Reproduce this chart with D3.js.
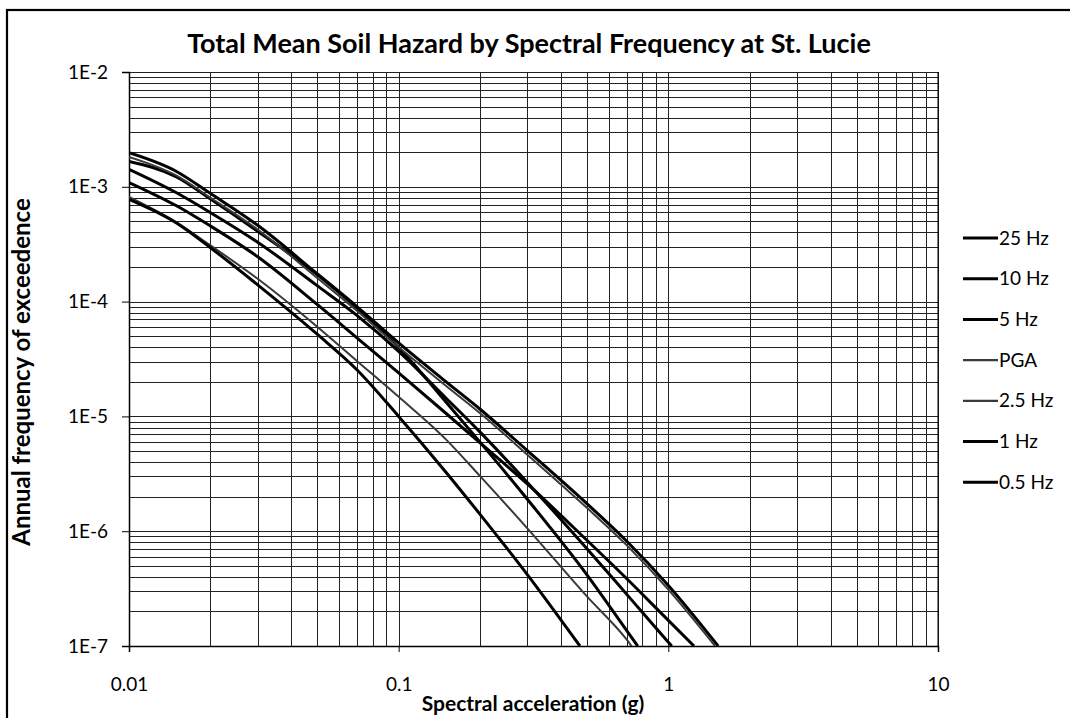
<!DOCTYPE html>
<html>
<head>
<meta charset="utf-8">
<script src="https://cdnjs.cloudflare.com/ajax/libs/d3/7.8.5/d3.min.js"></script>
<style>
body { margin: 0; background: #fff; overflow: hidden; }
text { font-family: Lato, "Open Sans", sans-serif; fill: #000; }
</style>
</head>
<body>
<div id="chart"></div>
<script>
var sa = [0.01, 0.015, 0.02, 0.03, 0.05, 0.07, 0.1, 0.15, 0.2, 0.3, 0.5, 0.7, 1];

// annual frequency of exceedence per series
var afe25  = [1.66e-3, 1.22e-3, 7.87e-4, 4.10e-4, 1.71e-4, 8.81e-5, 3.97e-5, 1.33e-5, 6.0e-6, 1.9e-6, 4.15e-7, 1.37e-7];
var afe10  = [1.42e-3, 8.87e-4, 5.98e-4, 3.29e-4, 1.37e-4, 7.59e-5, 3.69e-5, 1.44e-5, 7.33e-6, 2.66e-6, 7.0e-7, 2.83e-7, 1.08e-7];
var afe5   = [1.98e-3, 1.36e-3, 8.77e-4, 4.62e-4, 1.74e-4, 9.06e-5, 4.37e-5, 2.0e-5, 1.16e-5, 5.04e-6, 1.73e-6, 8.22e-7, 3.37e-7];
var afePGA = [8.15e-4, 4.9e-4, 3.1e-4, 1.58e-4, 6.01e-5, 3.04e-5, 1.48e-5, 6.28e-6, 3.03e-6, 1.06e-6, 2.69e-7, 1.14e-7];
var afe2p5 = [1.82e-3, 1.25e-3, 8.07e-4, 4.25e-4, 1.6e-4, 8.34e-5, 4.02e-5, 1.84e-5, 1.07e-5, 4.64e-6, 1.59e-6, 7.56e-7, 3.1e-7];
var afe1   = [1.09e-3, 6.83e-4, 4.57e-4, 2.46e-4, 9.4e-5, 4.84e-5, 2.39e-5, 1.06e-5, 5.9e-6, 2.58e-6, 8.3e-7, 3.87e-7, 1.67e-7];
var afe05  = [7.78e-4, 4.84e-4, 2.96e-4, 1.4e-4, 5.17e-5, 2.55e-5, 1.0e-5, 3.25e-6, 1.41e-6, 4.19e-7];

// where each curve leaves the chart at 1E-7
var endSa = [0.77, 1.03, 1.53, 0.73, 1.49, 1.245, 0.47];

var names = ["25 Hz", "10 Hz", "5 Hz", "PGA", "2.5 Hz", "1 Hz", "0.5 Hz"];
var afeAll = [afe25, afe10, afe5, afePGA, afe2p5, afe1, afe05];
var lightSeries = ["PGA", "2.5 Hz"];

var xTicks = [0.01, 0.1, 1, 10];
var yTicks = [1e-2, 1e-3, 1e-4, 1e-5, 1e-6, 1e-7];

var w = 1070;
var h = 718;
var plotL = 129, plotR = 938, plotT = 72, plotB = 646;

var svg = d3.select("#chart")
            .append("svg")
            .attr("width", w)
            .attr("height", h);

// outer frame, runs off the right and bottom edges like the scan
svg.append("rect")
    .attr("x", 7)
    .attr("y", 10)
    .attr("width", 1080)
    .attr("height", 720)
    .attr("fill", "#fff")
    .attr("stroke", "#000")
    .attr("stroke-width", 2.2);

var xScale = d3.scaleLog()
                .domain([0.01, 10])
                .range([plotL, plotR]);

var yScale = d3.scaleLog()
                .domain([1e-7, 1e-2])
                .range([plotB, plotT]);

// minor values for the grid
var xGrid = [];
[0.01, 0.1, 1].forEach(function(d){
    for(var k = 1; k < 10; k++){ xGrid.push(d * k); }
});
xGrid.push(10);

var yGrid = [];
[1e-7, 1e-6, 1e-5, 1e-4, 1e-3].forEach(function(d){
    for(var k = 1; k < 10; k++){ yGrid.push(d * k); }
});
yGrid.push(1e-2);

svg.append("g")
    .selectAll("line")
    .data(yGrid)
    .enter()
    .append("line")
    .attr("x1", plotL)
    .attr("x2", plotR)
    .attr("y1", function(d){ return Math.round(yScale(d)) + 0.5; })
    .attr("y2", function(d){ return Math.round(yScale(d)) + 0.5; })
    .attr("stroke", "#222")
    .attr("stroke-width", 1);

svg.append("g")
    .selectAll("line")
    .data(xGrid)
    .enter()
    .append("line")
    .attr("x1", function(d){ return Math.round(xScale(d)) + 0.5; })
    .attr("x2", function(d){ return Math.round(xScale(d)) + 0.5; })
    .attr("y1", plotT)
    .attr("y2", plotB)
    .attr("stroke", "#222")
    .attr("stroke-width", 1);

// axes with outward major ticks
var xAxis = d3.axisBottom(xScale)
                .tickValues(xTicks)
                .tickSize(6)
                .tickPadding(26)
                .tickFormat(function(d){ return String(d); });

var yAxis = d3.axisLeft(yScale)
                .tickValues(yTicks)
                .tickSize(7)
                .tickPadding(14)
                .tickFormat(function(d){ return "1E" + Math.round(Math.log10(d)); });

svg.append("g")
    .attr("transform", "translate(0," + plotB + ")")
    .call(xAxis)
    .call(function(g){ g.select(".domain").attr("stroke", "#000").attr("stroke-width", 1.5); })
    .selectAll("text")
    .style("font-size", "19px");

svg.append("g")
    .attr("transform", "translate(" + plotL + ",0)")
    .call(yAxis)
    .call(function(g){ g.select(".domain").attr("stroke", "#000").attr("stroke-width", 1.5); })
    .selectAll("text")
    .style("font-size", "19px");

svg.selectAll(".tick line").attr("stroke", "#000");

svg.append("line")
    .attr("x1", plotR).attr("x2", plotR)
    .attr("y1", plotT).attr("y2", plotB)
    .attr("stroke", "#000");

// clip curves to plot area
svg.append("clipPath")
    .attr("id", "plotClip")
    .append("rect")
    .attr("x", plotL)
    .attr("y", plotT)
    .attr("width", plotR - plotL)
    .attr("height", plotB - plotT);

var line = d3.line()
            .x(function(d){ return xScale(d[0]); })
            .y(function(d){ return yScale(d[1]); })
            .curve(d3.curveMonotoneX);

var series = names.map(function(name, i){
    var pts = afeAll[i].map(function(v, j){ return [sa[j], v]; });
    pts.push([endSa[i], 1e-7]);
    return {name: name, points: pts};
});

function isLight(d){ return lightSeries.indexOf(d.name) >= 0; }

svg.append("g")
    .attr("clip-path", "url(#plotClip)")
    .selectAll("path")
    .data(series)
    .enter()
    .append("path")
    .attr("d", function(d){ return line(d.points); })
    .attr("fill", "none")
    .attr("stroke", function(d){ return isLight(d) ? "#3a3a3a" : "#000"; })
    .attr("stroke-width", function(d){ return isLight(d) ? 2 : 3; });

// legend
var legend = svg.append("g")
                .selectAll("g")
                .data(series)
                .enter()
                .append("g")
                .attr("transform", function(d, i){ return "translate(963," + (238 + i * 40.7) + ")"; });

legend.append("line")
    .attr("x1", 0)
    .attr("x2", 35)
    .attr("stroke", function(d){ return isLight(d) ? "#3a3a3a" : "#000"; })
    .attr("stroke-width", function(d){ return isLight(d) ? 2.2 : 3; });

legend.append("text")
    .attr("x", 36)
    .attr("y", 0)
    .attr("dy", "0.35em")
    .style("font-size", "19px")
    .text(function(d){ return d.name; });

// titles
svg.append("text")
    .attr("x", 529)
    .attr("y", 53)
    .attr("text-anchor", "middle")
    .style("font-size", "27px")
    .style("font-weight", "bold")
    .text("Total Mean Soil Hazard by Spectral Frequency at St. Lucie");

svg.append("text")
    .attr("x", 533)
    .attr("y", 711)
    .attr("text-anchor", "middle")
    .style("font-size", "21px")
    .style("font-weight", "bold")
    .text("Spectral acceleration (g)");

svg.append("text")
    .attr("transform", "translate(30,372) rotate(-90)")
    .attr("text-anchor", "middle")
    .style("font-size", "24px")
    .style("font-weight", "bold")
    .text("Annual frequency of exceedence");
</script>
</body>
</html>
